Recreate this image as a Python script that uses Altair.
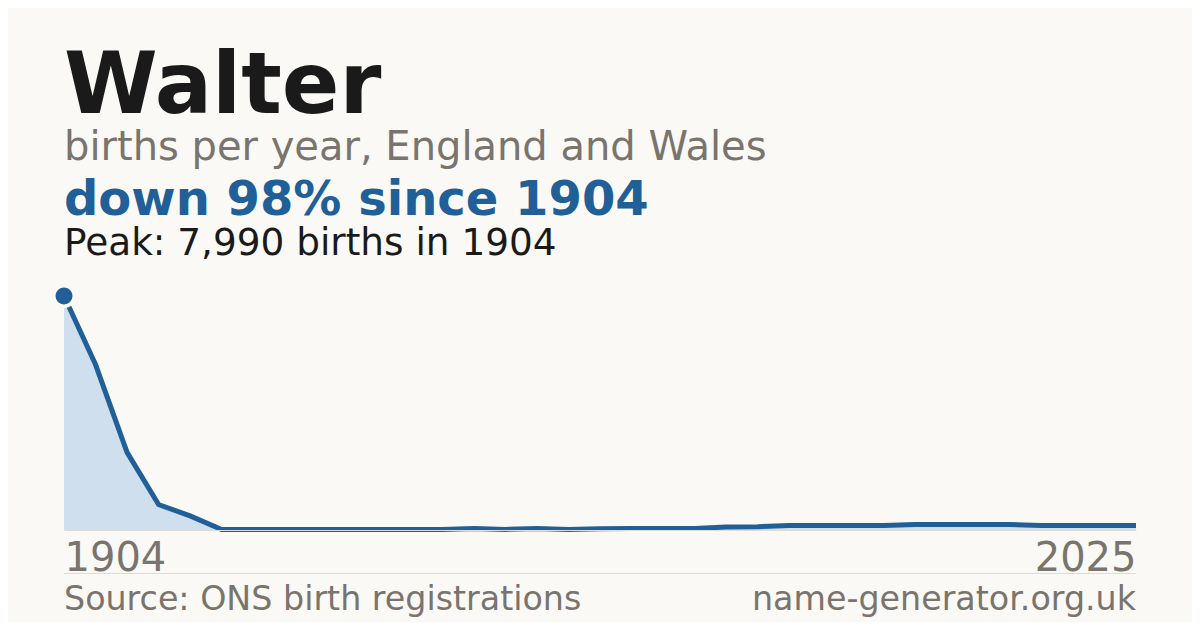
import altair as alt
import pandas as pd

# ---- data ----
first_year = 1904
last_year = 2025
births = [7990, 5650, 2650, 870, 480, 15, 15, 15, 15, 15, 15, 15, 15,
          50, 20, 50, 20, 40, 50, 50, 50, 100, 115, 154, 154, 154, 154,
          188, 188, 188, 188, 154, 154, 154, 154]
idx = list(range(len(births)))

title_text = ["Walter"]
subtitle_text = ["births per year, England and Wales"]
change_text = ["down 98% since 1904"]
peak_text = ["Peak: 7,990 births in 1904"]
source_text = ["Source: ONS birth registrations"]
site_text = ["name-generator.org.uk"]

BG = "#faf9f5"
BLUE = "#205f97"
FILL = "#cfdfee"
GREY = "#79746d"
DARK = "#1a1a1a"
RULE = "#dedcd6"
FONT = "DejaVu Sans"

W, H = 1072, 234
n = len(births)

df = pd.DataFrame({"idx": idx, "births": births})
peak_df = df[df["births"] == df["births"].max()]

xscale = alt.Scale(domain=[0, n - 1], nice=False, zero=False)
yscale = alt.Scale(domain=[0, max(births)], nice=False)

xaxis = alt.Axis(
    values=[0, n - 1],
    labelExpr=f"datum.value == 0 ? '{first_year}' : '{last_year}'",
    labelFlush=True,
    ticks=False,
    grid=False,
    title=None,
    labelFont=FONT,
    labelFontSize=40,
    labelColor=GREY,
    labelBaseline="alphabetic",
    labelPadding=40,
    domainColor=RULE,
    domainWidth=1,
    zindex=1,
)

area = alt.Chart(df).mark_area(color=FILL, opacity=1).encode(
    x=alt.X("idx:Q", scale=xscale, axis=xaxis),
    y=alt.Y("births:Q", scale=yscale, axis=None),
)
line = alt.Chart(df).mark_line(color=BLUE, strokeWidth=5).encode(
    x=alt.X("idx:Q", scale=xscale),
    y=alt.Y("births:Q", scale=yscale),
)
dot = alt.Chart(peak_df).mark_point(
    filled=True, fill=BLUE, stroke=BG, strokeWidth=3.5, size=420, opacity=1, shape="circle"
).encode(
    x=alt.X("idx:Q", scale=xscale),
    y=alt.Y("births:Q", scale=yscale),
)


def txt(values, y, size, color, weight="normal", x=0, align="left"):
    return alt.Chart(pd.DataFrame({"t": values})).mark_text(
        align=align, baseline="alphabetic", font=FONT, fontSize=size,
        fontWeight=weight, color=color,
    ).encode(text="t:N", x=alt.value(x), y=alt.value(y))


t_title = txt(title_text, 113 - 296, 85, DARK, "bold")
t_sub = txt(subtitle_text, 160 - 296, 40, GREY)
t_change = txt(change_text, 215 - 296, 48, BLUE, "bold")
t_peak = txt(peak_text, 255 - 296, 37.4, DARK)
t_source = txt(source_text, 610 - 296, 33.3, GREY)
t_site = txt(site_text, 610 - 296, 33.3, GREY, x=W, align="right")

sep = alt.Chart(pd.DataFrame({"a": [0]})).mark_rule(color=RULE, strokeWidth=1).encode(
    x=alt.value(0), x2=alt.value(W), y=alt.value(573.5 - 296)
)

chart = alt.layer(
    area, line, dot, t_title, t_sub, t_change, t_peak, t_source, t_site, sep
).properties(
    width=W, height=H,
    padding={"left": 56, "right": 56, "top": 288, "bottom": 92},
    autosize=alt.AutoSizeParams(type="none"),
    background=BG,
).configure_view(stroke=None)

chart.save("out.html", embed_options={"renderer": "svg", "actions": False})
